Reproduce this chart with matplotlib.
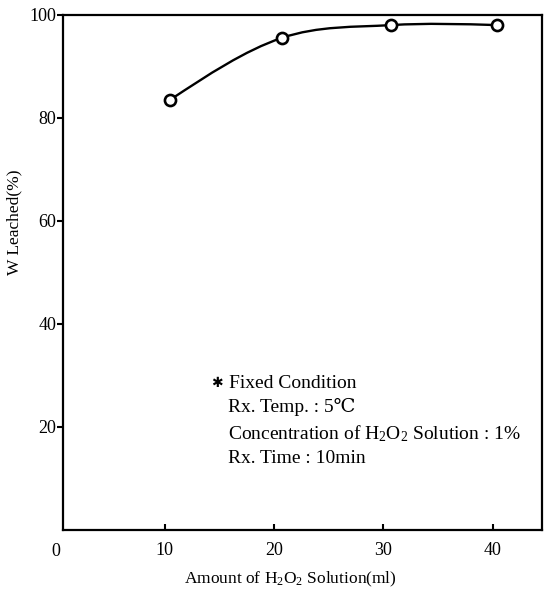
import numpy as np
import matplotlib
matplotlib.use("Agg")
import matplotlib.pyplot as plt
from matplotlib.path import Path
from matplotlib.patches import PathPatch

plt.rcParams['font.family'] = ['Liberation Serif', 'DejaVu Serif']
plt.rcParams['mathtext.fontset'] = 'custom'
plt.rcParams['mathtext.rm'] = 'Liberation Serif'
plt.rcParams['mathtext.it'] = 'Liberation Serif:italic'

amount_ml = [10.5, 20.7, 30.7, 40.4]
w_leached = [83.5, 95.5, 98.0, 98.0]
x_ticks = [10, 20, 30, 40]
y_ticks = [20, 40, 60, 80, 100]

fig = plt.figure(figsize=(5.45, 5.92), dpi=100)
ax = fig.add_axes([0.115, 0.105, 0.879, 0.870])

# smooth curve (cubic Hermite -> Bezier) through the data points
P = np.column_stack([amount_ml, w_leached]).astype(float)
n = len(P)
T = np.zeros_like(P)
for i in range(1, n - 1):
    T[i] = (P[i+1] - P[i-1]) / 2
ch0 = P[1] - P[0]
T[0] = (ch0 + (2 * ch0 - T[1])) / 2
chn = P[-1] - P[-2]
T[-1] = (chn + (2 * chn - T[-2])) / 2
verts = [tuple(P[0])]; codes = [Path.MOVETO]
for i in range(n - 1):
    verts += [tuple(P[i] + T[i] / 3), tuple(P[i+1] - T[i+1] / 3), tuple(P[i+1])]
    codes += [Path.CURVE4] * 3
ax.add_patch(PathPatch(Path(verts, codes), fill=False, lw=1.7, color='black', zorder=2,
                       capstyle='round'))
ax.plot(amount_ml, w_leached, 'o', ms=8, mfc='white', mec='black', mew=1.9, zorder=3)

ax.set_xlim(0.66, 44.5)
ax.set_ylim(0, 100)
ax.set_xticks(x_ticks)
ax.set_yticks(y_ticks)
ax.tick_params(axis='x', direction='in', length=4, width=1.5, labelsize=13, pad=9)
ax.tick_params(axis='y', direction='out', length=4, width=1.5, labelsize=13, pad=0.5)
for s in ax.spines.values():
    s.set_linewidth(1.6)

ax.text(0, -0.026, '0', transform=ax.get_xaxis_transform(), ha='center', va='top', fontsize=13)

ax.set_xlabel(r'Amount of H$_2$O$_2$ Solution(ml)', fontsize=12.5)
ax.xaxis.set_label_coords(0.475, -0.078)
ax.set_ylabel('W Leached(%)', fontsize=12.5)
ax.yaxis.set_label_coords(-0.085, 0.598)

fs = 14
ax.text(0.322, 0.285, '✱', transform=ax.transAxes, fontsize=10, va='center', ha='center',
        family=['DejaVu Sans'])
ax.text(0.348, 0.285, 'Fixed Condition', transform=ax.transAxes, fontsize=fs, va='center')
ax.text(0.345, 0.238, 'Rx. Temp. : 5℃', transform=ax.transAxes, fontsize=fs, va='center',
        family=['Liberation Serif', 'DejaVu Serif', 'DejaVu Sans'])
ax.text(0.345, 0.186, r'Concentration of H$_2$O$_2$ Solution : 1%', transform=ax.transAxes, fontsize=fs, va='center')
ax.text(0.345, 0.139, 'Rx. Time : 10min', transform=ax.transAxes, fontsize=fs, va='center')

fig.savefig('out.png', dpi=100)
